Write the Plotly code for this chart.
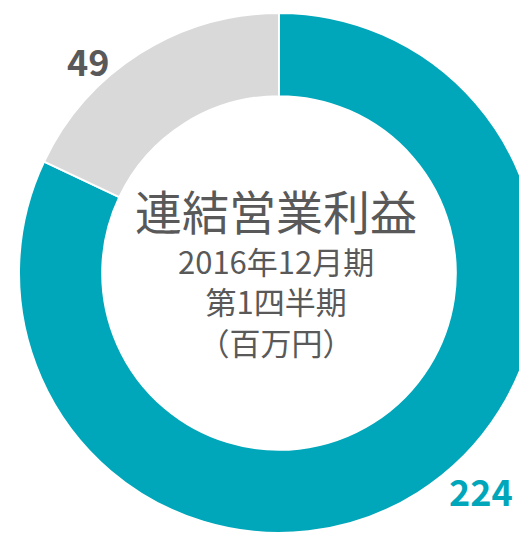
import plotly.graph_objects as go

labels = ["連結営業利益", "その他"]
values = [224, 49]
colors = ["#00A6B9", "#D9D9D9"]
label_colors = ["#00A6B9", "#595959"]

title_main = "連結営業利益"
title_sub = ["2016年12月期", "第1四半期", "（百万円）"]

W, H = 558, 534
MT, MB = 13, 1
font_family = "Noto Sans CJK JP, Noto Sans, sans-serif"


def px(x):
    return x / W


def py(y):
    return (H - MB - y) / (H - MT - MB)


fig = go.Figure(data=[
    go.Pie(
        labels=labels,
        values=values,
        hole=0.68,
        sort=False,
        direction="clockwise",
        rotation=0,
        marker=dict(colors=colors, line=dict(color="white", width=2)),
        textinfo="none",
        hoverinfo="label+value",
        showlegend=False,
    )
])

annotations = []
# value labels outside the ring
label_pos = [(481, 490), (88, 60)]
for v, c, (x, y) in zip(values, label_colors, label_pos):
    annotations.append(dict(
        x=px(x), y=py(y), xref="paper", yref="paper", showarrow=False,
        xanchor="center", yanchor="middle",
        text=f"<b>{v}</b>", font=dict(size=36, color=c, family=font_family),
    ))

# centre text
annotations.append(dict(
    x=px(276), y=py(209), xref="paper", yref="paper", showarrow=False,
    xanchor="center", yanchor="middle",
    text=title_main, font=dict(size=47, color="#595959", family=font_family),
))
annotations.append(dict(
    x=px(276), y=py(301), xref="paper", yref="paper", showarrow=False,
    xanchor="center", yanchor="middle",
    text="<br>".join(title_sub), font=dict(size=31, color="#595959", family=font_family),
))

fig.update_layout(
    width=W,
    height=H,
    margin=dict(l=0, r=0, t=MT, b=MB),
    paper_bgcolor="white",
    plot_bgcolor="white",
    annotations=annotations,
)

fig.write_html("out.html", config={"displayModeBar": False},
               post_script="document.body.style.overflow='hidden';document.body.style.margin='0';")
